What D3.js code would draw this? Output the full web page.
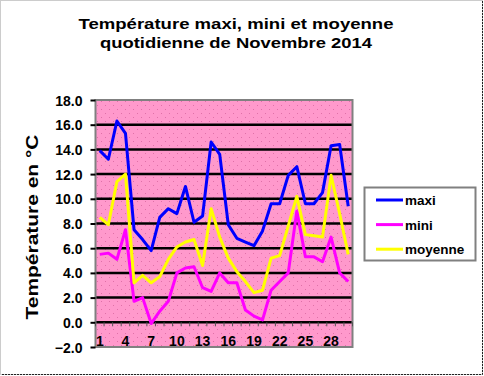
<!DOCTYPE html>
<html>
<head>
<meta charset="utf-8">
<script src="https://cdn.jsdelivr.net/npm/d3@7"></script>
<style>
	body { margin: 0; background: #fff; }
	svg text { font-family: Arial, "Liberation Sans", sans-serif; font-weight: bold; fill: #000; }
</style>
</head>
<body>
<svg width="484" height="376"></svg>
<script>
// Data: daily temperatures, November 2014
const days = d3.range(1, 31);
const maxi = [13.9, 13.2, 16.3, 15.3, 7.5, 6.7, 5.8, 8.5, 9.2, 8.8, 11.0, 8.1, 8.6, 14.6, 13.6,
              7.9, 6.8, 6.5, 6.2, 7.4, 9.6, 9.6, 11.9, 12.6, 9.6, 9.6, 10.5, 14.3, 14.4, 9.4];
const mini = [5.5, 5.6, 5.1, 7.5, 1.7, 2.0, -0.1, 0.9, 1.7, 4.0, 4.4, 4.5, 2.8, 2.5, 4.0,
              3.2, 3.2, 1.0, 0.5, 0.2, 2.6, 3.3, 4.0, 9.0, 5.3, 5.3, 4.9, 6.9, 4.0, 3.3];
const moyenne = [8.5, 7.9, 11.4, 12.0, 3.2, 3.8, 3.2, 3.7, 5.1, 6.1, 6.5, 6.7, 4.6, 9.2, 6.9,
                 5.2, 4.1, 3.3, 2.4, 2.6, 5.2, 5.4, 7.8, 10.2, 7.1, 7.0, 6.9, 11.9, 8.8, 5.5];
const y_ticks = d3.range(-2, 18.1, 2);
const x_tick_labels = [1, 4, 7, 10, 13, 16, 19, 22, 25, 28];
const series_names = ["maxi", "mini", "moyenne"];
const series_colors = ["#0000ff", "#ff00ff", "#ffff00"];
const series_values = [maxi, mini, moyenne];

const svg = d3.select("svg");
const plot = {left: 95.5, right: 352.5, top: 100, bottom: 347};

const x = d3.scalePoint().domain(days).range([plot.left, plot.right]).padding(0.5);
const y = d3.scaleLinear().domain([-2, 18]).range([plot.bottom, plot.top]);
const step = x.step();

// Outer frame (dotted, darker on the shadow side)
svg.append("rect")
   .attr("x", 0.5).attr("y", 0.5).attr("width", 482).attr("height", 374)
   .attr("fill", "none").attr("stroke", "#999").attr("stroke-dasharray", "1,1");
svg.append("path")
   .attr("d", "M482.5,1V374.5H1")
   .attr("fill", "none").attr("stroke", "#222").attr("stroke-dasharray", "2,1");

// Title: two lines
const title_lines = [["Température maxi, mini et moyenne", 29, 315],
                     ["quotidienne de Novembre 2014", 47.5, 272]];
svg.selectAll("text.title")
   .data(title_lines)
   .enter()
   .append("text")
   .attr("class", "title")
   .attr("x", 236)
   .attr("y", d => d[1])
   .attr("text-anchor", "middle")
   .attr("font-size", 15.5)
   .attr("textLength", d => d[2])
   .attr("lengthAdjust", "spacingAndGlyphs")
   .text(d => d[0]);

// Plot background with dotted pattern
const defs = svg.append("defs");
const pattern = defs.append("pattern")
   .attr("id", "dots").attr("patternUnits", "userSpaceOnUse")
   .attr("width", 8).attr("height", 8);
pattern.append("rect").attr("width", 8).attr("height", 8).attr("fill", "#ff99cc");
pattern.append("rect").attr("x", 1).attr("y", 1).attr("width", 1).attr("height", 1).attr("fill", "#e070a8");
pattern.append("rect").attr("x", 5).attr("y", 5).attr("width", 1).attr("height", 1).attr("fill", "#e070a8");

svg.append("rect")
   .attr("x", plot.left).attr("y", plot.top)
   .attr("width", plot.right - plot.left).attr("height", plot.bottom - plot.top)
   .attr("fill", "url(#dots)");

// Horizontal gridlines
svg.selectAll("line.grid")
   .data(y_ticks.filter(v => v > -2 && v < 18))
   .enter()
   .append("line")
   .attr("class", "grid")
   .attr("x1", plot.left).attr("x2", plot.right)
   .attr("y1", d => y(d)).attr("y2", d => y(d))
   .attr("stroke", "#000").attr("stroke-width", 2.5);

// Plot border
svg.append("rect")
   .attr("x", plot.left).attr("y", plot.top)
   .attr("width", plot.right - plot.left).attr("height", plot.bottom - plot.top)
   .attr("fill", "none").attr("stroke", "#808080").attr("stroke-width", 2);

// Y axis
const y_axis = svg.append("g")
   .attr("transform", `translate(${plot.left},0)`)
   .call(d3.axisLeft(y).tickValues(y_ticks).tickFormat(d3.format(".1f")).tickSize(5).tickPadding(8));
y_axis.select(".domain").remove();
y_axis.selectAll(".tick line").attr("stroke", "#000").attr("stroke-width", 2);
y_axis.selectAll(".tick text").attr("font-size", 14).attr("dy", "0.36em").style("font-family", null);

// X axis: category ticks on the zero line, labels at the bottom
const x_axis = svg.append("g");
x_axis.selectAll("line.xtick")
   .data(d3.range(0, days.length + 1))
   .enter()
   .append("line")
   .attr("class", "xtick")
   .attr("x1", d => plot.left + d * step).attr("x2", d => plot.left + d * step)
   .attr("y1", y(0)).attr("y2", y(0) + 4)
   .attr("stroke", "#555").attr("stroke-width", 1);
x_axis.selectAll("text")
   .data(x_tick_labels)
   .enter()
   .append("text")
   .attr("x", d => x(d))
   .attr("y", 346)
   .attr("text-anchor", "middle")
   .attr("font-size", 14)
   .text(d => d);

// Y axis title
svg.append("text")
   .attr("transform", "translate(38,227) rotate(-90)")
   .attr("text-anchor", "middle")
   .attr("font-size", 17)
   .attr("textLength", 185)
   .attr("lengthAdjust", "spacingAndGlyphs")
   .text("Température en °C");

// Series lines
const line = d3.line()
   .x((d, i) => x(days[i]))
   .y(d => y(d));

svg.selectAll("path.series")
   .data(series_values)
   .enter()
   .append("path")
   .attr("class", "series")
   .attr("d", d => line(d))
   .attr("fill", "none")
   .attr("stroke", (d, i) => series_colors[i])
   .attr("stroke-width", 3)
   .attr("stroke-linejoin", "round");

// Legend
const legend = svg.append("g");
legend.append("rect")
   .attr("x", 364.5).attr("y", 187.5).attr("width", 111).attr("height", 73)
   .attr("fill", "#fff").attr("stroke", "#808080").attr("stroke-width", 2);

const legend_items = legend.selectAll("g.item")
   .data(series_names)
   .enter()
   .append("g")
   .attr("class", "item")
   .attr("transform", (d, i) => `translate(0,${200 + i * 24.6})`);
legend_items.append("line")
   .attr("x1", 376).attr("x2", 403)
   .attr("stroke", (d, i) => series_colors[i])
   .attr("stroke-width", 3);
legend_items.append("text")
   .attr("x", 405).attr("y", 5)
   .attr("font-size", 13.5)
   .text(d => d);
</script>
</body>
</html>
